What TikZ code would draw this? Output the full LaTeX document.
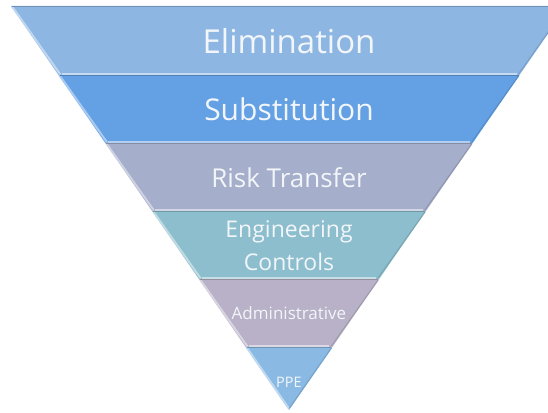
\documentclass[tikz,border=0pt]{standalone}
\usepackage{fontspec}
\setmainfont{Open Sans}
\definecolor{cElim}{HTML}{8DB6E3}
\definecolor{cSub}{HTML}{64A1E4}
\definecolor{cRisk}{HTML}{A5AECA}
\definecolor{cEng}{HTML}{8CBECD}
\definecolor{cAdm}{HTML}{B9B1C7}
\definecolor{cPPE}{HTML}{8ABAE4}
\definecolor{cText}{HTML}{F2F5F9}
\tikzset{
  lbl/.style={text=cText, inner sep=0pt, anchor=base},
}
\newcommand{\myband}[7]{%
  % #1 colour, #2 top y, #3 bottom y, #4 L top, #5 R top, #6 L bottom, #7 R bottom
  \fill[#1] (#4,#2) -- (#5,#2) -- (#7,#3) -- (#6,#3) -- cycle;
  \draw[#1!55!white, line width=2pt, line cap=round] (#4+1.5,#2+1) -- (#6+1.5,#3-1);
  \draw[#1!88!black, line width=1.2pt] (#5-1,#2+1) -- (#7-1,#3-1);
  \draw[#1!50!white, line width=1.4pt] (#6+3,#3-1.2) -- (#7-3,#3-1.2);
  \draw[#1!80!black, line width=0.6pt] (#4+1,#2+0.3) -- (#5-1,#2+0.3);
}
\begin{document}
\begin{tikzpicture}[x=1pt,y=-1pt]
\useasboundingbox (0,0) rectangle (548,412);
\clip (0,0) rectangle (548,412);
\fill[white] (0,0) rectangle (548,412);
\myband{cElim}{6}{75}{11}{567}{58.5}{519.5}
\myband{cSub}{75}{143}{58.5}{519.5}{105.3}{472.7}
\myband{cRisk}{143}{211}{105.3}{472.7}{152.1}{425.9}
\myband{cEng}{211}{279}{152.1}{425.9}{198.9}{379.1}
\myband{cAdm}{279}{347}{198.9}{379.1}{245.6}{332.4}
\fill[cPPE] (245.6,347) -- (332.4,347) -- (289,410) -- cycle;
\draw[cPPE!55!white, line width=2pt, line cap=round] (247.1,348) -- (288.5,408);
\draw[cPPE!88!black, line width=1.2pt] (331.4,348) -- (289.5,408);
\draw[cPPE!80!black, line width=0.6pt] (246.6,347.3) -- (331.4,347.3);

\node[lbl, font=\fontsize{33}{40}\selectfont] (elim) at (289,53) {Elimination};
\node[lbl, font=\fontsize{30}{36}\selectfont] (sub) at (289,120.5) {Substitution};
\node[lbl, font=\fontsize{26}{31}\selectfont] (risk) at (289,187) {Risk Transfer};
\node[lbl, anchor=center, align=center, font=\fontsize{23}{33}\selectfont] (eng) at (289,246) {Engineering\\Controls};
\node[lbl, font=\fontsize{17}{20}\selectfont] (adm) at (289,319) {Administrative};
\node[lbl, font=\fontsize{14.5}{17}\selectfont] (ppe) at (289,387.5) {PPE};
\end{tikzpicture}
\end{document}
